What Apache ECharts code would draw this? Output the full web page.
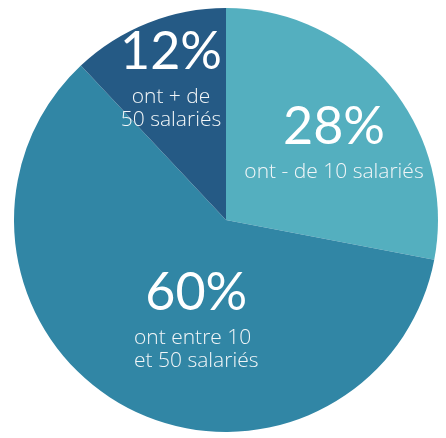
<!DOCTYPE html>
<html>
<head>
<meta charset="utf-8">
<script src="https://cdn.jsdelivr.net/npm/echarts@6/dist/echarts.min.js"></script>
<style>
html,body{margin:0;padding:0;background:#fff;}
#chart{width:446px;height:438px;}
</style>
</head>
<body>
<div id="chart"></div>
<script>
const categories = ['ont - de 10 salariés', 'ont entre 10\net 50 salariés', 'ont + de\n50 salariés'];
const values = [28, 60, 12];
const colors = ['#54afbf', '#3186a5', '#255a85'];

const labelPlacement = [
  {x: 334, y: 94, align: 'center'},
  {x: 134, y: 260, align: 'left'},
  {x: 171, y: 19, align: 'center'}
];

const chart = echarts.init(document.getElementById('chart'));
chart.setOption({
  animation: false,
  series: [{
    type: 'pie',
    center: [226, 220],
    radius: 212,
    startAngle: 90,
    clockwise: true,
    silent: true,
    labelLine: {show: false},
    emphasis: {disabled: true},
    itemStyle: {borderWidth: 0},
    label: {
      show: true,
      position: 'inside',
      color: '#fff',
      formatter: function (p) {
        return '{num|' + p.value + '%}\n{txt|' + p.name.split('\n').join('}\n{txt|') + '}';
      },
      rich: {
        num: {fontFamily: 'Lato', fontWeight: 400, fontSize: 52, lineHeight: 67, color: '#fff', align: 'center'},
        txt: {fontFamily: 'Open Sans', fontWeight: 300, fontSize: 21, lineHeight: 23, color: '#f2f6f8'}
      }
    },
    labelLayout: function (params) {
      const p = labelPlacement[params.dataIndex];
      return {x: p.x, y: p.y, align: p.align, verticalAlign: 'top'};
    },
    data: categories.map(function (c, i) {
      return {name: c, value: values[i], itemStyle: {color: colors[i]}};
    })
  }]
});
</script>
</body>
</html>
